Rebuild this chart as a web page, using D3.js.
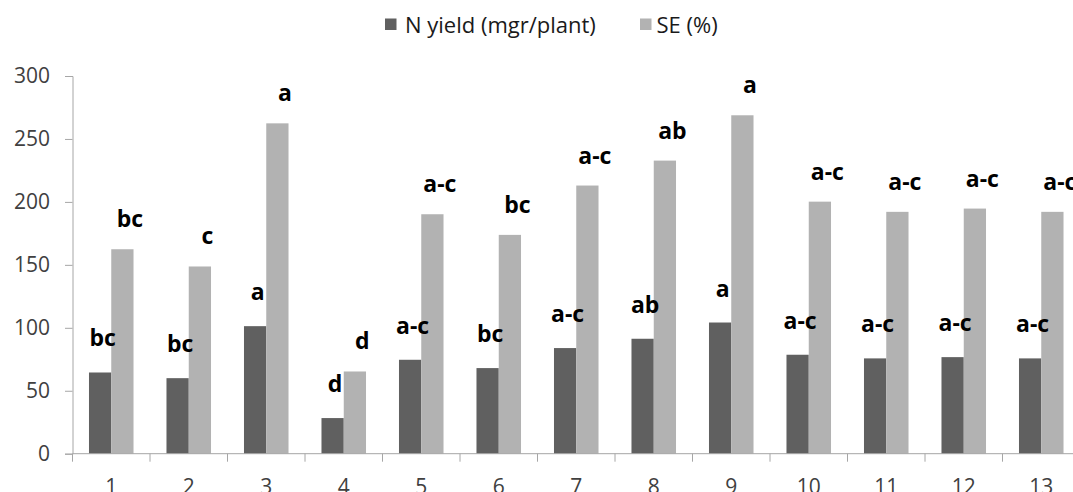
<!DOCTYPE html>
<html>
<head>
<meta charset="utf-8">
<script src="https://cdn.jsdelivr.net/npm/d3@7/dist/d3.min.js"></script>
<style>
  html, body { margin: 0; padding: 0; background: #fff; }
  svg { display: block; }
  text { font-family: "Open Sans", sans-serif; }
</style>
</head>
<body>
<svg id="chart" width="1073" height="492"></svg>
<script>
const categories = ["1","2","3","4","5","6","7","8","9","10","11","12","13"];
const nYield = [64.5, 60.0, 101.3, 28.3, 74.6, 68.0, 83.9, 91.3, 104.2, 78.6, 75.7, 76.7, 75.7];
const seValues = [162.4, 148.7, 262.4, 65.3, 190.2, 173.8, 213.0, 232.8, 268.8, 200.2, 192.1, 194.7, 192.1];
const nLetters = ["bc","bc","a","d","a-c","bc","a-c","ab","a","a-c","a-c","a-c","a-c"];
const seLetters = ["bc","c","a","d","a-c","bc","a-c","ab","a","a-c","a-c","a-c","a-c"];
const seriesNames = ["N yield (mgr/plant)", "SE (%)"];
const yTicks = [0, 50, 100, 150, 200, 250, 300];

const colors = ["#606060", "#b2b2b2"];
const axisColor = "#a6a6a6";

const svg = d3.select("#chart");
const left = 72.5, bandStep = 77.5;
const x = d3.scaleBand().domain(categories).range([left, left + bandStep * categories.length]).padding(0);
const xs = d3.scaleBand().domain([0, 1]).range([0, x.bandwidth()]).paddingInner(0).paddingOuter(0.74);
const y = d3.scaleLinear().domain([0, 300]).range([453.7, 76]);

// y axis
const yAxis = d3.axisLeft(y).tickValues(yTicks).tickSize(7.5).tickPadding(15);
const gy = svg.append("g").attr("transform", `translate(${left},0)`).call(yAxis);
gy.select(".domain").attr("stroke", axisColor);
gy.selectAll(".tick line").attr("stroke", axisColor);
gy.selectAll(".tick text").attr("font-size", 21).attr("fill", "#404040").attr("font-family", "Open Sans");

// bars
const series = [nYield, seValues];
const letters = [nLetters, seLetters];
const labelDx = [2.5, 7.5], labelDy = [-26, -22];
series.forEach((vals, si) => {
  svg.append("g").selectAll("rect").data(vals).join("rect")
    .attr("x", (d, i) => x(categories[i]) + xs(si))
    .attr("width", xs.bandwidth())
    .attr("y", d => y(d))
    .attr("height", d => y(0) - y(d))
    .attr("fill", colors[si]);
});

// x axis (categories with ticks at boundaries)
const gx = svg.append("g");
gx.append("line").attr("x1", left).attr("x2", left + bandStep * categories.length)
  .attr("y1", y(0)).attr("y2", y(0)).attr("stroke", axisColor);
const bounds = categories.map(c => x(c)).concat([x(categories[categories.length - 1]) + x.bandwidth()]);
gx.selectAll("line.tk").data(bounds).join("line").attr("class", "tk")
  .attr("x1", d => d).attr("x2", d => d).attr("y1", y(0)).attr("y2", y(0) + 8).attr("stroke", axisColor);
gx.selectAll("text").data(categories).join("text")
  .attr("x", d => x(d) + x.bandwidth() / 2)
  .attr("y", 494)
  .attr("text-anchor", "middle")
  .attr("font-size", 21)
  .attr("fill", "#404040")
  .text(d => d);

// letter labels (on top of all bars)
series.forEach((vals, si) => {
  svg.append("g").selectAll("text").data(vals).join("text")
    .attr("x", (d, i) => x(categories[i]) + xs(si) + xs.bandwidth() / 2 + labelDx[si])
    .attr("y", d => y(d) + labelDy[si])
    .attr("text-anchor", "middle")
    .attr("font-size", 23)
    .attr("font-weight", "bold")
    .attr("fill", "#000")
    .text((d, i) => letters[si][i]);
});

// legend
const legendItems = [{x: 385, tx: 405}, {x: 640, tx: 656.5}];
legendItems.forEach((it, i) => {
  svg.append("rect").attr("x", it.x).attr("y", 18.5).attr("width", 11.5).attr("height", 11.5).attr("fill", colors[i]);
  svg.append("text").attr("x", it.tx).attr("y", 33).attr("font-size", 22).attr("fill", "#1a1a1a").text(seriesNames[i]);
});
</script>
</body>
</html>
